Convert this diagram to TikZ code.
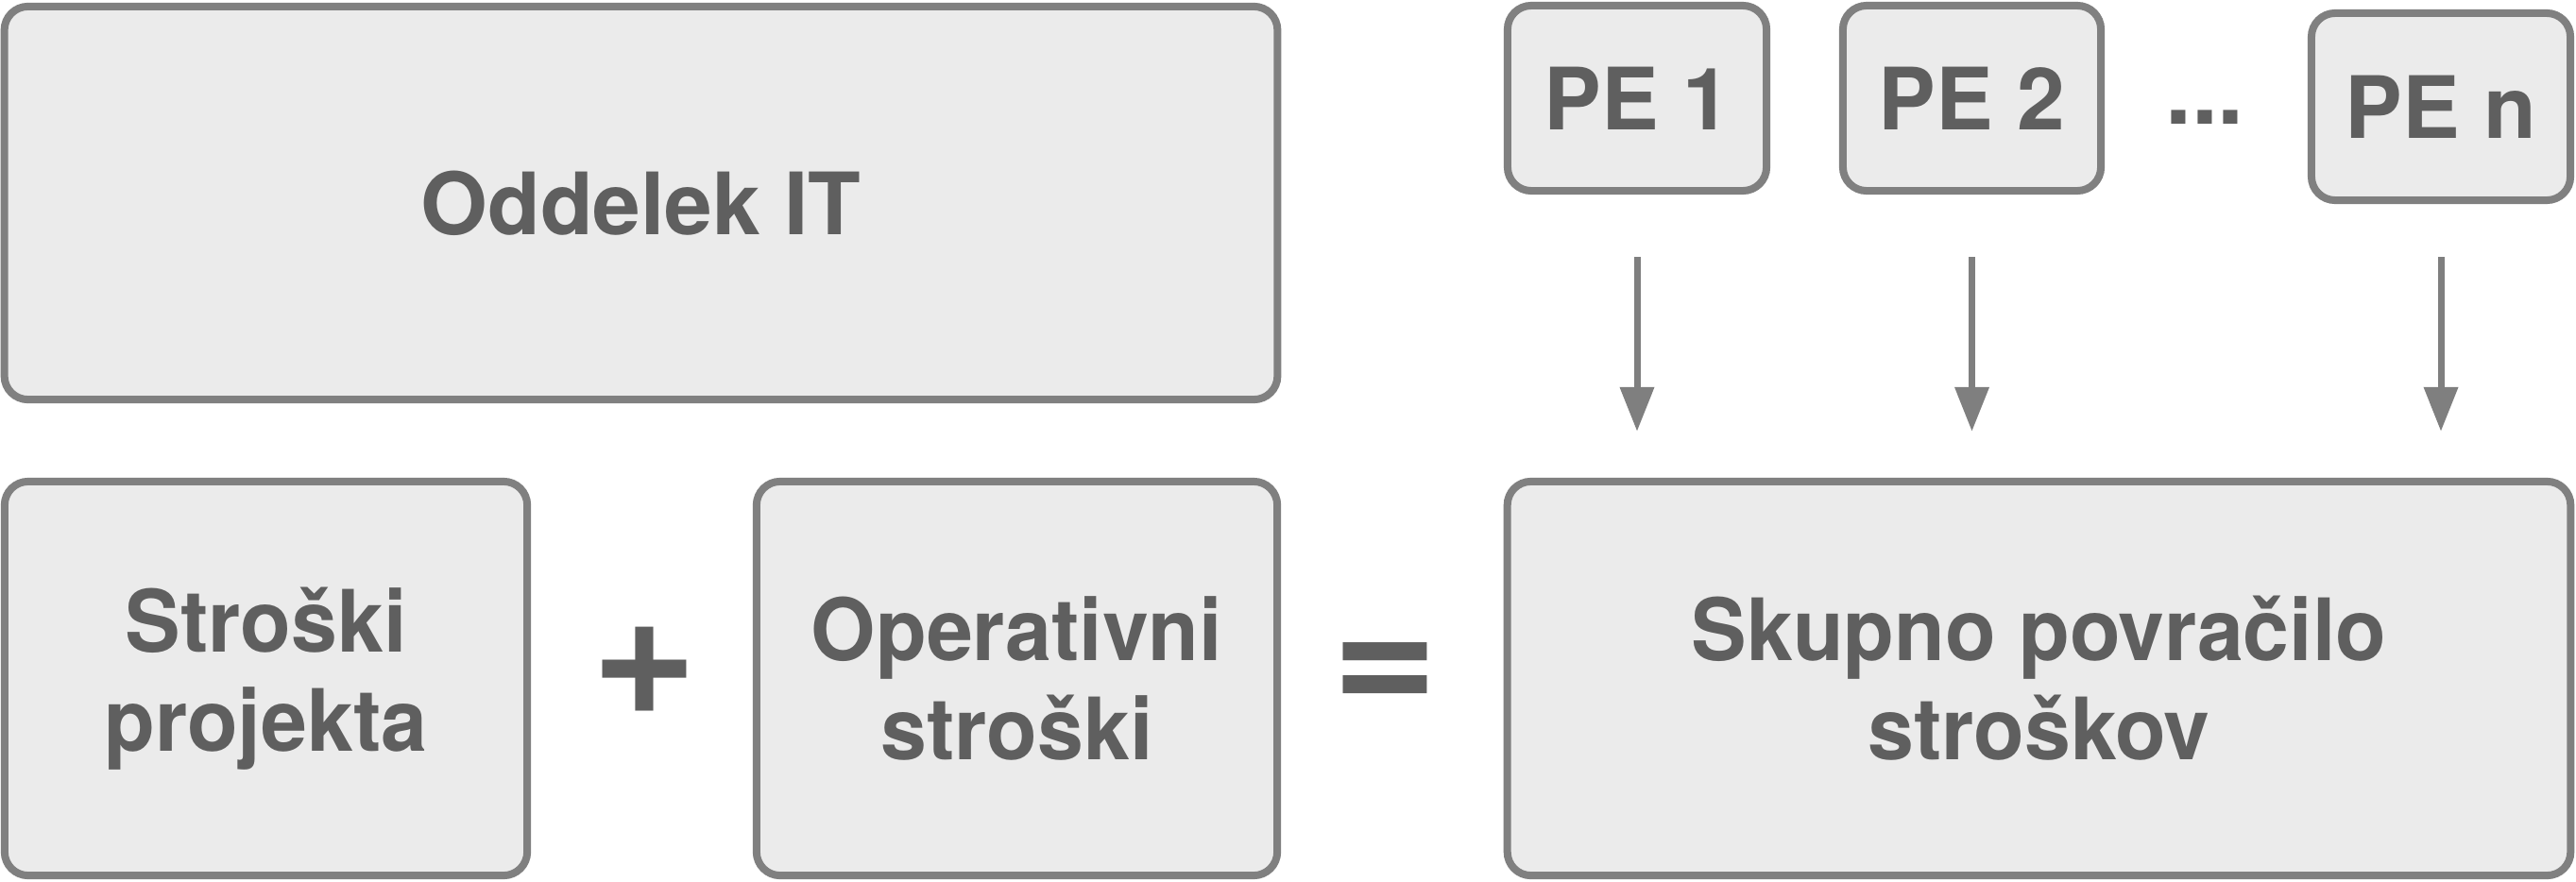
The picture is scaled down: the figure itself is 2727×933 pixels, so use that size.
\documentclass[tikz,border=0pt]{standalone}
\usepackage{fontspec}
\setmainfont{TeX Gyre Heros}
\newfontfamily\condfont{TeX Gyre Heros}[FakeStretch=0.965]
\usetikzlibrary{arrows.meta}
\definecolor{boxfill}{HTML}{EBEBEB}
\definecolor{boxline}{HTML}{808080}
\definecolor{txt}{HTML}{5F5F5F}
\definecolor{arr}{HTML}{7F7F7F}
\begin{document}
\begin{tikzpicture}[x=0.01cm,y=-0.01cm,
  box/.style={draw=boxline, fill=boxfill, line width=0.08cm, rounded corners=0.25cm,
    inner sep=0pt, outer sep=0pt, align=center, text=txt,
    font=\bfseries\fontsize{25.9pt}{29.9pt}\selectfont},
  bigbox/.style={box, font=\condfont\bfseries\fontsize{25.9pt}{29.9pt}\selectfont},
  flow/.style={draw=arr, line width=0.07cm, -{Triangle[width=0.35cm,length=0.47cm]}},
  sym/.style={text=txt, inner sep=0pt, outer sep=0pt, anchor=base,
    font=\bfseries\fontsize{54.5pt}{54.5pt}\selectfont}]
\useasboundingbox (0,0) rectangle (2727,933);
\node[box, minimum width=13.47cm, minimum height=4.16cm] (it) at (678.5,215) {Oddelek IT};
\node[bigbox, minimum width=5.53cm, minimum height=4.17cm] (sp) at (281.5,718.5) {Stroški\\projekta};
\node[bigbox, minimum width=5.51cm, minimum height=4.17cm] (op) at (1076.5,718.5) {Operativni\\stroški};
\node[bigbox, minimum width=11.25cm, minimum height=4.17cm] (sk) at (2158.5,718.5) {Skupno povračilo\\stroškov};
\node[box, minimum width=2.74cm, minimum height=1.96cm] (pe1) at (1733,104) {PE 1};
\node[box, minimum width=2.73cm, minimum height=1.96cm] (pe2) at (2087.5,104) {PE 2};
\node[box, minimum width=2.74cm, minimum height=1.98cm] (pen) at (2584,113) {PE n};
\node[sym] (plus) at (682.5,756) {+};
\node[sym] (eq) at (1466,755.7) {=};
\node[sym, font=\bfseries\fontsize{28.5pt}{28.5pt}\selectfont] (dots) at (2334,131) {...};
\draw[flow, shorten <=0.70cm, shorten >=0.53cm] (pe1.south) -- (pe1.south |- sk.north);
\draw[flow, shorten <=0.70cm, shorten >=0.53cm] (pe2.south) -- (pe2.south |- sk.north);
\draw[flow, shorten <=0.60cm, shorten >=0.53cm] (pen.south) -- (pen.south |- sk.north);
\end{tikzpicture}
\end{document}
